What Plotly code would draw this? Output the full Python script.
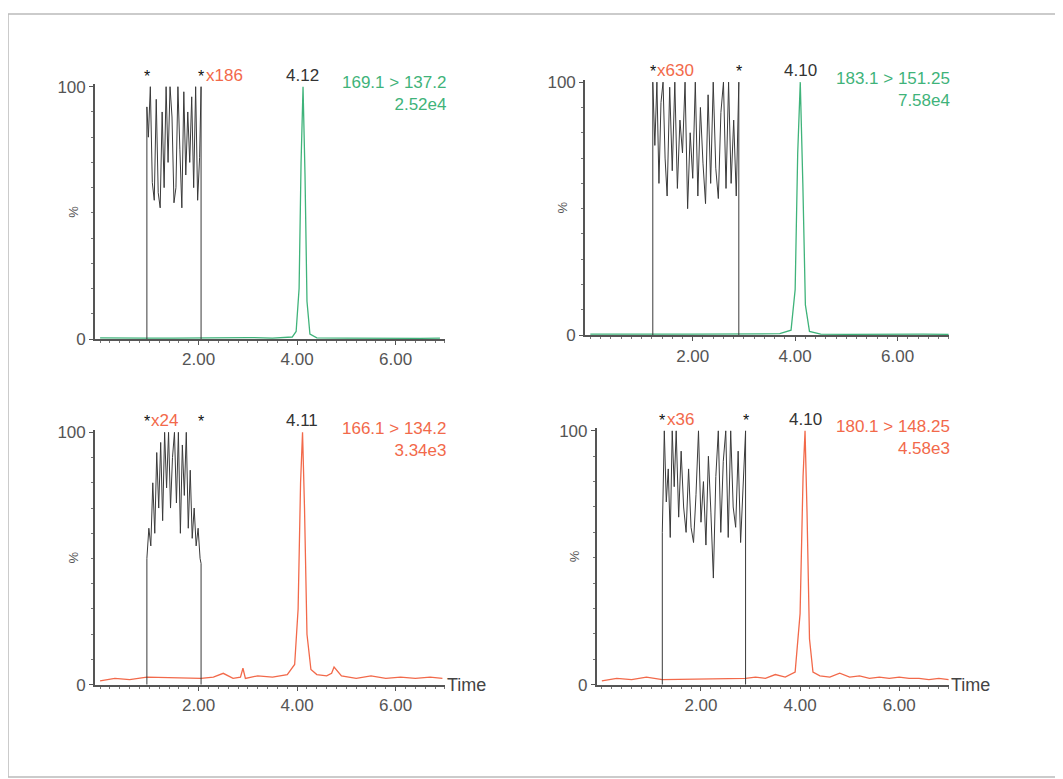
import plotly.graph_objects as go

# Data

tl_seg_x = [0.95, 0.95, 0.98, 1.02, 1.06, 1.10, 1.14, 1.18, 1.22, 1.26, 1.30, 1.34, 1.38, 1.42, 1.46, 1.50,
            1.54, 1.58, 1.62, 1.66, 1.70, 1.74, 1.78, 1.82, 1.86, 1.90, 1.94, 1.98, 2.02, 2.05, 2.05]
tl_seg_y = [0, 92, 80, 100, 62, 55, 95, 58, 52, 90, 60, 100, 70, 100, 88, 54,
            60, 100, 75, 52, 98, 65, 90, 70, 96, 60, 100, 55, 72, 100, 0]
tl_pk_x = [0, 0.5, 0.95, 1.5, 2.05, 2.5, 3.0, 3.5, 3.9, 3.98, 4.04, 4.08, 4.12, 4.16, 4.20, 4.26, 4.4, 5.0, 5.5, 6.0, 6.5, 6.9]
tl_pk_y = [0.5, 0.3, 0.4, 0.4, 0.5, 0.3, 0.6, 0.4, 0.8, 3, 20, 70, 100, 65, 15, 2, 0.5, 0.4, 0.3, 0.4, 0.3, 0.4]

tr_seg_x = [1.22, 1.22, 1.26, 1.30, 1.34, 1.38, 1.42, 1.46, 1.50, 1.55, 1.60, 1.65, 1.70, 1.75, 1.80, 1.85,
            1.90, 1.95, 2.00, 2.05, 2.10, 2.15, 2.20, 2.25, 2.30, 2.35, 2.40, 2.45, 2.50, 2.55, 2.60,
            2.65, 2.70, 2.75, 2.80, 2.85, 2.90, 2.90]
tr_seg_y = [0, 100, 75, 100, 60, 92, 100, 70, 55, 98, 65, 100, 58, 85, 72, 100,
            50, 80, 62, 100, 55, 90, 68, 52, 95, 60, 100, 66, 54, 88, 100,
            58, 100, 60, 85, 55, 100, 0]
tr_pk_x = [0, 0.5, 1.0, 1.22, 2.0, 2.9, 3.3, 3.7, 3.92, 4.0, 4.05, 4.10, 4.15, 4.20, 4.28, 4.5, 5.0, 5.5, 6.0, 6.5, 7.0]
tr_pk_y = [0.4, 0.3, 0.4, 0.4, 0.4, 0.5, 0.4, 0.6, 2, 18, 72, 100, 60, 12, 1.5, 0.4, 0.3, 0.4, 0.3, 0.4, 0.3]

bl_seg_x = [0.95, 0.95, 0.99, 1.03, 1.07, 1.11, 1.15, 1.19, 1.23, 1.27, 1.31, 1.35, 1.39, 1.43, 1.47, 1.51,
            1.55, 1.59, 1.63, 1.67, 1.71, 1.75, 1.79, 1.83, 1.87, 1.91, 1.95, 1.99, 2.03, 2.05, 2.05]
bl_seg_y = [0, 50, 62, 55, 80, 60, 92, 70, 96, 65, 100, 78, 100, 70, 90, 100,
            72, 100, 60, 95, 75, 100, 62, 85, 58, 70, 55, 62, 50, 48, 0]
bl_pk_x = [0, 0.3, 0.6, 0.95, 2.05, 2.3, 2.5, 2.7, 2.85, 2.9, 2.95, 3.2, 3.5, 3.8, 3.95, 4.02, 4.07, 4.11,
           4.15, 4.20, 4.28, 4.4, 4.6, 4.7, 4.75, 4.9, 5.2, 5.5, 5.8, 6.1, 6.4, 6.7, 6.95]
bl_pk_y = [1.5, 2.5, 2.0, 3.0, 2.5, 3.0, 4.5, 2.5, 3.0, 6.5, 2.5, 3.5, 3.0, 4.0, 8, 30, 80, 100,
           70, 20, 6, 4, 3.5, 4.5, 7, 3.5, 2.5, 3.5, 2.5, 3.0, 2.5, 3.0, 2.5]

br_seg_x = [1.22, 1.22, 1.26, 1.30, 1.34, 1.38, 1.42, 1.46, 1.50, 1.55, 1.60, 1.65, 1.70, 1.75, 1.80, 1.85,
            1.90, 1.95, 2.00, 2.05, 2.10, 2.15, 2.20, 2.25, 2.30, 2.35, 2.40, 2.45, 2.50, 2.55, 2.60,
            2.65, 2.70, 2.75, 2.80, 2.85, 2.90, 2.90]
br_seg_y = [0, 60, 100, 72, 85, 58, 100, 78, 100, 66, 92, 70, 60, 85, 62, 56,
            75, 100, 64, 80, 55, 90, 68, 42, 82, 100, 60, 88, 100, 58, 100,
            70, 62, 92, 56, 80, 100, 0]
br_pk_x = [0, 0.3, 0.6, 0.9, 1.22, 2.9, 3.1, 3.3, 3.5, 3.7, 3.9, 4.0, 4.06, 4.10, 4.14, 4.19, 4.26, 4.4,
           4.6, 4.8, 5.0, 5.2, 5.4, 5.6, 5.8, 6.0, 6.2, 6.4, 6.6, 6.8, 7.0]
br_pk_y = [1.5, 2.5, 2.0, 3.0, 2.0, 2.5, 3.0, 2.5, 4.0, 3.0, 5, 28, 82, 100,
           68, 18, 5, 3.5, 3.0, 4.5, 3.0, 3.5, 2.5, 3.0, 2.5, 3.0, 2.5, 2.5, 2.0, 2.5, 2.0]

green = '#3fb37a'
red = '#f2694a'
dark = '#3a3a3a'

panels = [
    # seg_x, seg_y, pk_x, pk_y, colour, xdomain, ydomain, scale label, rt, channel, intensity, time label
    (tl_seg_x, tl_seg_y, tl_pk_x, tl_pk_y, green, [0.082, 0.411], [0.574, 0.908], 'x186', '4.12', '169.1 > 137.2', '2.52e4', False),
    (tr_seg_x, tr_seg_y, tr_pk_x, tr_pk_y, green, [0.543, 0.885], [0.579, 0.914], 'x630', '4.10', '183.1 > 151.25', '7.58e4', False),
    (bl_seg_x, bl_seg_y, bl_pk_x, bl_pk_y, red, [0.082, 0.411], [0.121, 0.455], 'x24', '4.11', '166.1 > 134.2', '3.34e3', True),
    (br_seg_x, br_seg_y, br_pk_x, br_pk_y, red, [0.554, 0.885], [0.121, 0.457], 'x36', '4.10', '180.1 > 148.25', '4.58e3', True),
]

fig = go.Figure()
fam = 'Liberation Sans, Arial'

for i, (sx, sy, px, py, col, xd, yd, scale, rt, chan, inten, tlab) in enumerate(panels):
    n = '' if i == 0 else str(i + 1)
    xa, ya = 'x' + n, 'y' + n
    fig.add_trace(go.Scatter(x=px, y=py, mode='lines', line=dict(color=col, width=1.3), xaxis=xa, yaxis=ya))
    fig.add_trace(go.Scatter(x=sx, y=sy, mode='lines', line=dict(color=dark, width=1), xaxis=xa, yaxis=ya))
    ax = dict(domain=xd, range=[-0.1, 7.0], tickvals=[2, 4, 6], ticktext=['2.00', '4.00', '6.00'],
              showgrid=False, zeroline=False, showline=True, linecolor='#555', linewidth=2,
              ticks='outside', ticklen=4, tickcolor='#555', anchor=ya,
              minor=dict(dtick=0.2, ticks='outside', ticklen=2, tickcolor='#777'),
              tickfont=dict(color='#555', size=17, family=fam))
    ay = dict(domain=yd, range=[0, 101], tickvals=[0, 100], ticktext=['0', '100'],
              showgrid=False, zeroline=False, showline=True, linecolor='#555', linewidth=2,
              ticks='outside', ticklen=4, tickcolor='#555', anchor=xa,
              minor=dict(dtick=10, ticks='outside', ticklen=2, tickcolor='#777'),
              tickfont=dict(color='#555', size=17, family=fam))
    fig.update_layout(**{'xaxis' + n: ax, 'yaxis' + n: ay})
    x0, x1 = sx[0], sx[-1]
    ann = [
        dict(x=x0, y=100, text='*', font=dict(color='#111', size=16)),
        dict(x=x1, y=100, text='*', font=dict(color='#111', size=16)),
        dict(x=(x1 if i == 0 else x0) + 0.05, y=100, text=scale, xanchor='left', font=dict(color=red, size=17)),
        dict(x=4.1, y=100, text=rt, font=dict(color='#333', size=17)),
    ]
    for a in ann:
        fig.add_annotation(xref=xa, yref=ya, showarrow=False, yanchor='bottom', yshift=0,
                           font_family=fam, **a)
    fig.add_annotation(xref=xa + ' domain', yref=ya + ' domain', x=1.01, y=1.05, showarrow=False,
                       text=chan + '<br>' + inten, xanchor='right', yanchor='top', align='right',
                       font=dict(color=col, size=17, family=fam))
    fig.add_annotation(xref=xa + ' domain', yref=ya + ' domain', x=-0.09, y=0.5, showarrow=False,
                       text='%', textangle=-90, font=dict(color='#555', size=13, family=fam))
    if tlab:
        fig.add_annotation(xref=xa + ' domain', yref=ya + ' domain', x=1.0, y=0, showarrow=False,
                           text='Time', xanchor='left', yanchor='middle',
                           font=dict(color='#444', size=18, family=fam))

fig.add_shape(type='rect', xref='paper', yref='paper', x0=0.0, y0=0.0, x1=1.0, y1=1.0,
              line=dict(color='#bbb', width=1.5))
fig.update_layout(width=1063, height=779, margin=dict(l=0, r=0, t=0, b=0), showlegend=False,
                  plot_bgcolor='white', paper_bgcolor='white')

fig.write_html("out.html")
